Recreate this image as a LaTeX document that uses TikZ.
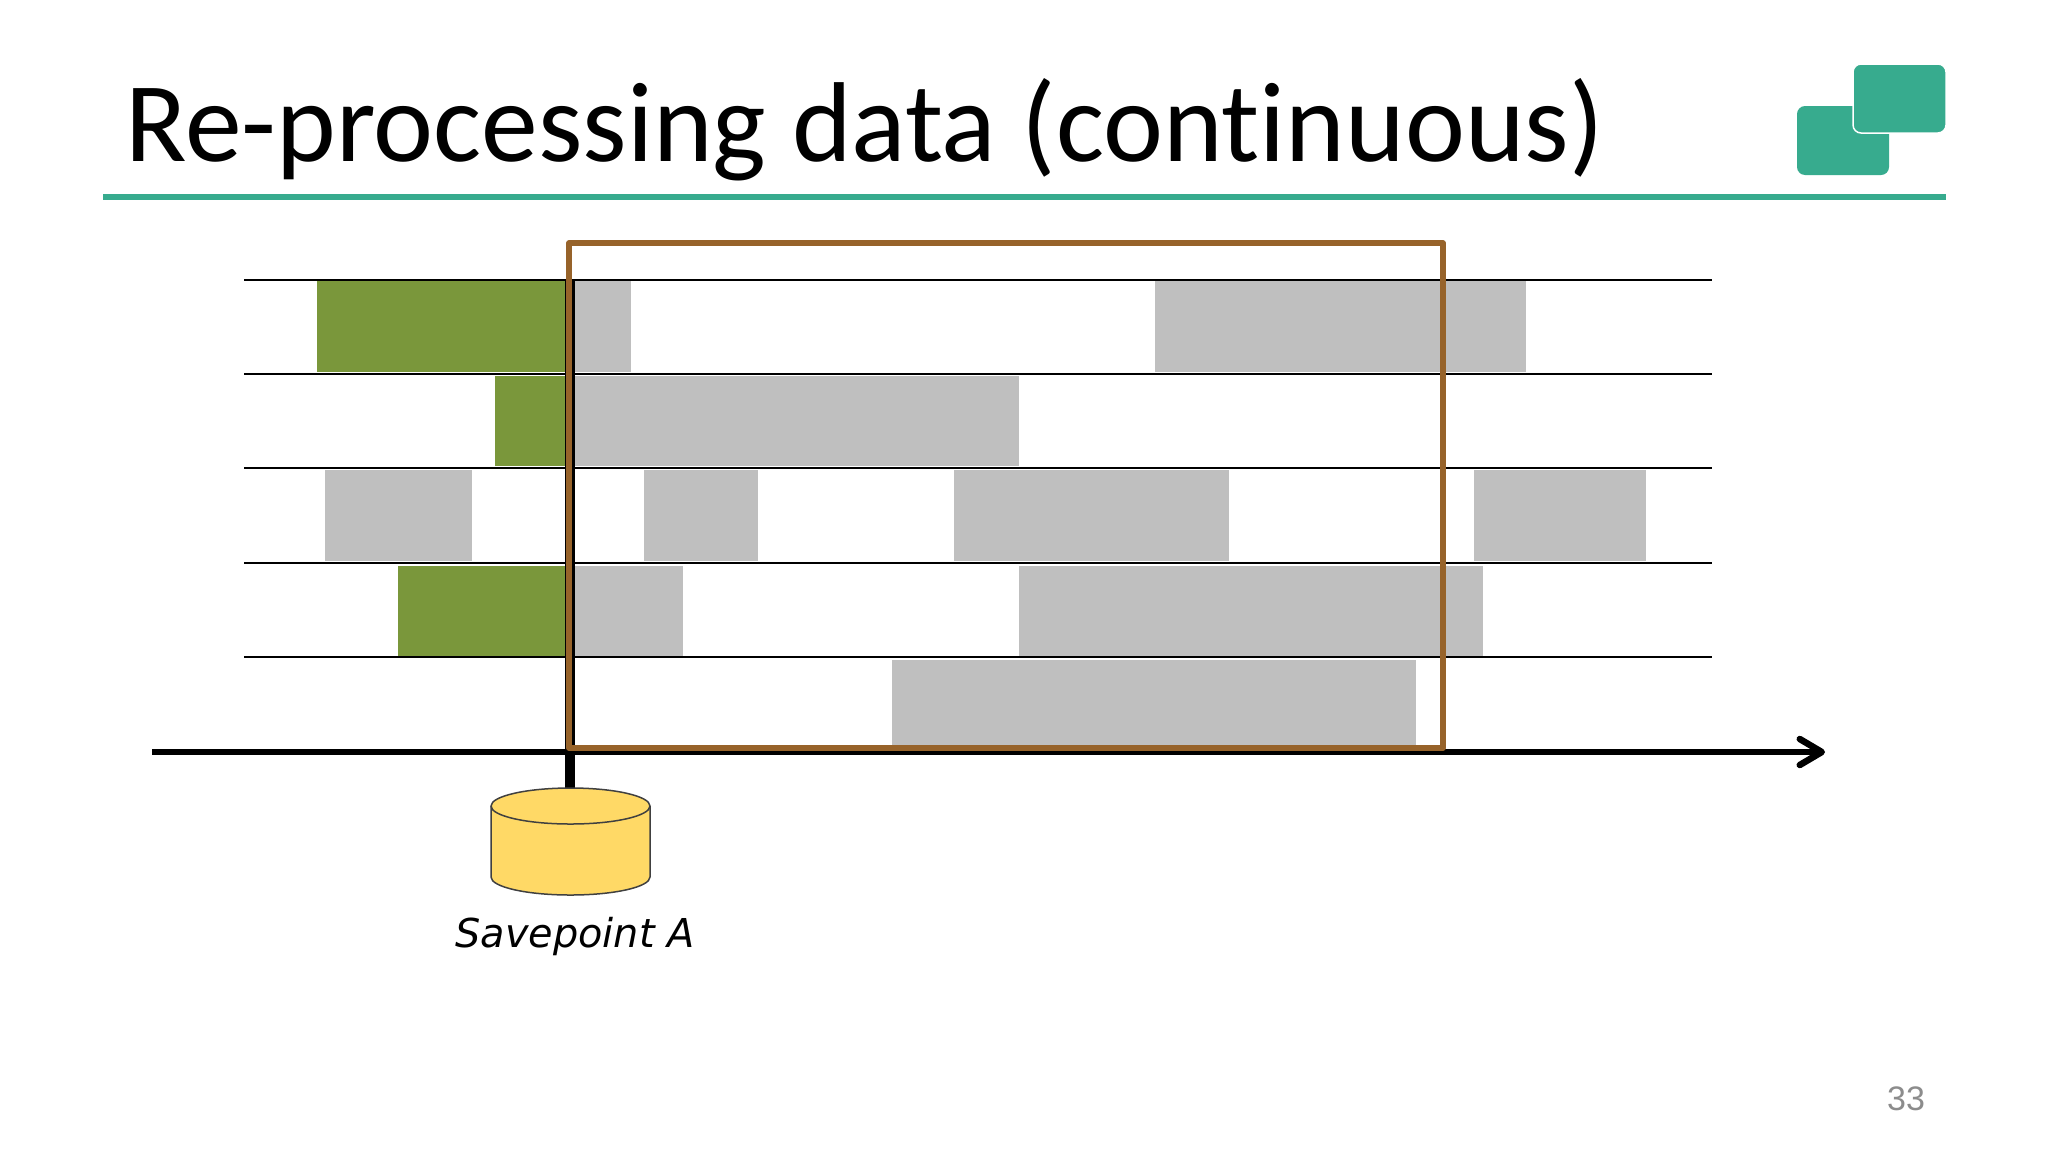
\documentclass[tikz,border=0pt]{standalone}
\usepackage{fontspec}
\usepackage{xcolor}
\usetikzlibrary{arrows.meta}
\setmainfont[Ligatures=NoCommon]{Carlito}
\newfontfamily\labelfont{DejaVu Sans}
\newfontfamily\pagefont{Liberation Sans}
\definecolor{tealbar}{HTML}{37AB8E}
\definecolor{oldgreen}{HTML}{7A973B}
\definecolor{slotgrey}{HTML}{BFBFBF}
\definecolor{framebrown}{HTML}{97632A}
\definecolor{storeyellow}{HTML}{FFD966}
\definecolor{storeline}{HTML}{404040}
\tikzset{
  logobox/.style={fill=tealbar,rounded corners=4pt},
  rowline/.style={black,line width=1.4pt},
  timeaxis/.style={black,line width=3.25pt},
  storage/.style={draw=storeline,fill=storeyellow,line width=.75pt,line join=round},
}
\begin{document}
\begin{tikzpicture}[x=.5pt,y=-.5pt]
  \useasboundingbox (0,0) rectangle (2048,1152);
  \fill[white] (0,0) rectangle (2048,1152);
  % title and logo
  \node[anchor=base west,inner sep=0pt,font=\fontsize{56.8}{56.8}\selectfont] (title) at (125,161) {Re-processing data (continuous)};
  \draw[tealbar,line width=3pt] (103,197) -- (1946,197);
  \fill[logobox] (1797,106) rectangle (1889,175);
  \draw[logobox,draw=white,line width=.75pt] (1853,64) rectangle (1946,133);
  % slots of the five rows
  \foreach \xa/\xb/\ya/\yb in {574/631/281/372,1155/1526/281/372,574/1019/376/466,325/472/470/561,644/758/470/561,954/1229/470/561,1474/1646/470/561,574/683/566/656,1019/1483/566/656,892/1416/660/750}{
    \fill[slotgrey] (\xa,\ya) rectangle (\xb,\yb);
  }
  \foreach \xa/\ya/\yb in {317/281/372,495/376/466,398/566/656}{
    \fill[oldgreen] (\xa,\ya) rectangle (565,\yb);
  }
  \foreach \y in {280,374,468,563,657}{
    \draw[rowline] (244,\y) -- (1712,\y);
  }
  % axis and savepoint
  \coordinate (start) at (152,752);
  \coordinate (end) at (1825,752);
  \coordinate (mark) at (569.5,280);
  \coordinate (storetop) at (569.5,789);
  \draw[timeaxis,-{Straight Barb[round,length=11pt,width=13pt]}] (start) -- (end);
  \draw[black,line width=5pt] (mark) -- (storetop);
  \draw[storage] (491,806) -- (491,877) arc[start angle=180,end angle=0,x radius=79.5,y radius=18]
    -- (650,806) arc[start angle=0,end angle=-180,x radius=79.5,y radius=18] -- cycle;
  \draw[storage,fill=none] (491,806) arc[start angle=180,end angle=0,x radius=79.5,y radius=18];
  \node[anchor=base,inner sep=0pt,font=\labelfont\itshape\fontsize{19.9}{19.9}\selectfont] (savepoint) at (575,947) {Savepoint A};
  % re-processed range
  \draw[framebrown,line width=2.6pt,line join=round] (569,243) rectangle (1443,748);
  \node[inner sep=0pt,text=black!45,font=\pagefont\fontsize{17}{17}\selectfont] (pagenum) at (1906,1099) {33};
\end{tikzpicture}
\end{document}
